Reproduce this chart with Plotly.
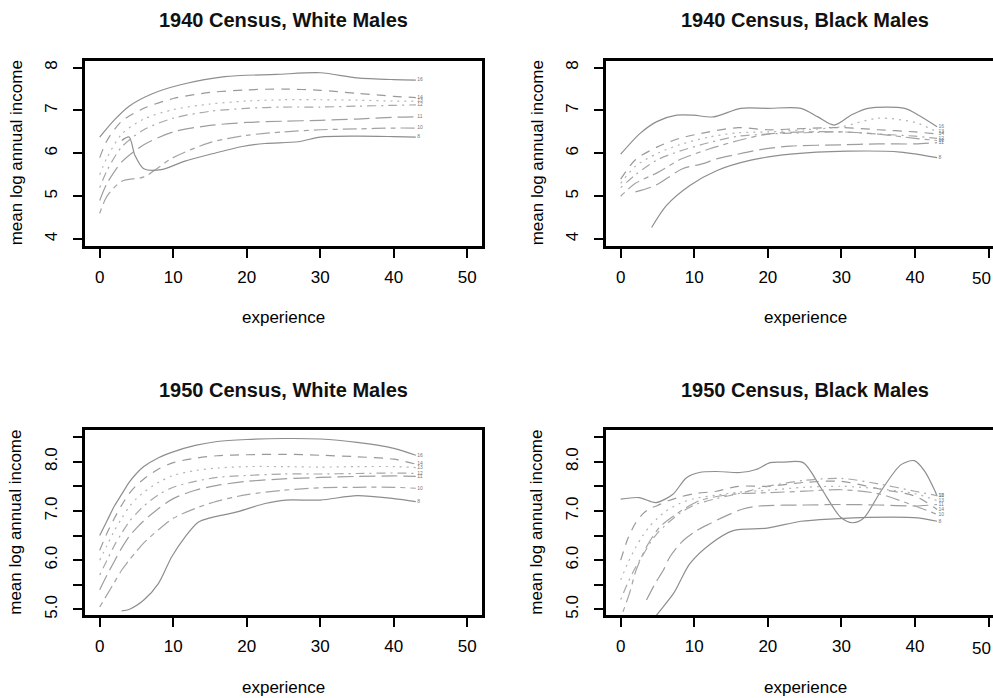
import plotly.graph_objects as go

W, H = 993, 698

# ---------------- data ----------------
EXP_TICKS = [0, 10, 20, 30, 40, 50]
Y40_TICKS = [4, 5, 6, 7, 8]
Y50_TICKS = [5.0, 5.5, 6.0, 6.5, 7.0, 7.5, 8.0, 8.5]
Y50_TICKTEXT = ["5.0", "", "6.0", "", "7.0", "", "8.0", ""]
EDU_LABELS = ["16", "14", "13", "12", "11", "10", "8"]

# 1940 Census, White Males
w40_l1_x = [0, 2, 4, 7, 11, 17, 24, 30, 35, 40, 43]
w40_l1_y = [6.38, 6.78, 7.10, 7.38, 7.60, 7.79, 7.84, 7.88, 7.76, 7.72, 7.71]
w40_grid = [0, 1, 3, 6, 10, 15, 20, 25, 30, 35, 40, 43]
w40_l2_y = [5.9, 6.3, 6.75, 7.05, 7.28, 7.42, 7.48, 7.50, 7.47, 7.40, 7.33, 7.30]
w40_l3_y = [5.5, 5.9, 6.45, 6.8, 7.02, 7.15, 7.22, 7.25, 7.25, 7.24, 7.22, 7.22]
w40_l4_y = [5.2, 5.6, 6.15, 6.55, 6.82, 6.98, 7.05, 7.08, 7.08, 7.10, 7.12, 7.13]
w40_l5_y = [4.9, 5.3, 5.8, 6.2, 6.5, 6.65, 6.72, 6.75, 6.77, 6.80, 6.84, 6.85]
w40_l6_y = [4.6, 5.0, 5.35, 5.45, 5.9, 6.25, 6.42, 6.50, 6.55, 6.57, 6.59, 6.59]
w40_l7_x = [3, 4, 4.8, 6, 8.4, 11.6, 15.3, 19.4, 22.5, 27, 30, 35, 40, 43]
w40_l7_y = [6.30, 6.38, 5.95, 5.64, 5.62, 5.82, 5.99, 6.16, 6.23, 6.27, 6.38, 6.40, 6.39, 6.38]

# 1940 Census, Black Males
b40_l1_x = [0, 2.6, 4.9, 7.6, 9.9, 12.6, 16.3, 19.9, 24.5, 26.8, 29, 31.3, 33.6, 38.6, 40.5, 43]
b40_l1_y = [5.98, 6.46, 6.74, 6.89, 6.89, 6.85, 7.05, 7.05, 7.05, 6.85, 6.66, 6.89, 7.05, 7.05, 6.89, 6.62]
b40_grid = [0, 2, 5, 8, 12, 16, 20, 25, 30, 35, 40, 43]
b40_l2_y = [5.4, 5.85, 6.15, 6.35, 6.5, 6.6, 6.55, 6.58, 6.60, 6.55, 6.50, 6.45]
b40_l3_y = [5.3, 5.7, 6.0, 6.2, 6.38, 6.48, 6.5, 6.55, 6.62, 6.82, 6.72, 6.50]
b40_l4_y = [5.2, 5.5, 5.85, 6.05, 6.25, 6.4, 6.45, 6.48, 6.50, 6.45, 6.40, 6.35]
b40_l5_x = [2, 4.7, 8.4, 11.2, 13, 15.6, 18.1, 20.4, 23.1, 30, 35, 40, 43]
b40_l5_y = [5.1, 5.25, 5.64, 5.76, 5.87, 5.97, 6.06, 6.12, 6.17, 6.20, 6.22, 6.22, 6.25]
b40_l6_y = [5.0, 5.3, 5.55, 5.85, 6.1, 6.3, 6.45, 6.5, 6.50, 6.45, 6.35, 6.30]
b40_l7_x = [4.2, 6.2, 9.4, 13.1, 17.7, 23.1, 30.8, 38, 43]
b40_l7_y = [4.27, 4.78, 5.25, 5.60, 5.84, 5.98, 6.05, 6.03, 5.90]

# 1950 Census, White Males
w50_grid = [0, 1, 2, 3, 4, 5, 6, 8, 10, 13, 16, 20, 25, 30, 35, 40, 43]
w50_l1_y = [6.5, 6.8, 7.1, 7.34, 7.58, 7.76, 7.9, 8.08, 8.2, 8.33, 8.41, 8.45, 8.47, 8.46, 8.39, 8.27, 8.13]
w50_l2_y = [6.2, 6.55, 6.85, 7.12, 7.35, 7.52, 7.65, 7.85, 7.98, 8.07, 8.12, 8.14, 8.15, 8.13, 8.10, 8.05, 7.95]
w50_l3_y = [6.0, 6.3, 6.6, 6.85, 7.08, 7.25, 7.38, 7.58, 7.72, 7.82, 7.87, 7.9, 7.9, 7.89, 7.90, 7.90, 7.88]
w50_l4_y = [5.7, 6.0, 6.3, 6.55, 6.78, 6.95, 7.1, 7.33, 7.48, 7.6, 7.68, 7.72, 7.75, 7.75, 7.76, 7.77, 7.76]
w50_l5_y = [5.4, 5.7, 5.98, 6.25, 6.48, 6.65, 6.8, 7.05, 7.25, 7.42, 7.52, 7.6, 7.65, 7.68, 7.70, 7.71, 7.70]
w50_l6_y = [5.05, 5.3, 5.55, 5.8, 6.0, 6.18, 6.35, 6.62, 6.85, 7.05, 7.2, 7.33, 7.42, 7.47, 7.48, 7.48, 7.46]
w50_l7_x = [3, 4, 6, 8, 9.8, 11.6, 13.4, 15.3, 18.4, 22.5, 25.3, 30, 35, 40, 43]
w50_l7_y = [4.97, 5.0, 5.19, 5.53, 6.07, 6.47, 6.77, 6.87, 6.97, 7.15, 7.22, 7.22, 7.31, 7.25, 7.19]

# 1950 Census, Black Males
b50_l1_x = [0, 2.5, 4.8, 7.1, 8.9, 10.7, 13, 16.2, 18.4, 20.3, 22, 24.8, 27.2, 29.9, 31.5, 33,
            35.4, 38.1, 39.9, 41.3, 42.7, 43]
b50_l1_y = [7.24, 7.27, 7.17, 7.34, 7.67, 7.78, 7.80, 7.78, 7.84, 7.98, 7.99, 7.98, 7.47, 6.87,
            6.76, 6.85, 7.41, 7.94, 8.02, 7.81, 7.41, 7.30]
b50_grid = [0, 1, 2, 3, 4, 5, 6, 8, 10, 13, 16, 20, 25, 30, 35, 40, 43]
b50_l2_y = [6.0, 6.45, 6.75, 6.94, 7.05, 7.11, 7.18, 7.28, 7.35, 7.40, 7.50, 7.50, 7.58, 7.60, 7.45, 7.30, 7.03]
b50_l3_y = [5.6, 5.95, 6.25, 6.5, 6.7, 6.85, 6.98, 7.15, 7.25, 7.32, 7.38, 7.42, 7.48, 7.50, 7.45, 7.35, 7.21]
b50_l4_y = [5.2, 5.55, 5.85, 6.1, 6.35, 6.55, 6.7, 6.95, 7.12, 7.25, 7.35, 7.50, 7.62, 7.66, 7.55, 7.40, 7.31]
b50_l5_x = [3.5, 4.7, 5.8, 6.7, 8.5, 10.3, 12.1, 14.3, 16.6, 18.9, 25, 30, 35, 40, 43]
b50_l5_y = [5.19, 5.53, 5.8, 6.07, 6.4, 6.6, 6.74, 6.9, 7.04, 7.10, 7.12, 7.13, 7.12, 7.10, 7.13]
b50_l6_x = [0.3, 1.2, 2.1, 3.5, 5.3, 7.6, 10.7, 15.3, 19.9, 25, 30, 35, 40, 43]
b50_l6_y = [4.95, 5.33, 5.8, 6.27, 6.67, 6.94, 7.21, 7.34, 7.37, 7.40, 7.43, 7.35, 7.10, 6.93]
b50_l7_x = [4.5, 4.9, 7.2, 9.4, 12.2, 15.3, 19.9, 24.5, 29, 33.6, 40.4, 43]
b50_l7_y = [4.80, 4.89, 5.33, 5.93, 6.33, 6.60, 6.65, 6.79, 6.84, 6.87, 6.86, 6.79]

PANEL_TITLES = ["1940 Census, White Males", "1940 Census, Black Males",
                "1950 Census, White Males", "1950 Census, Black Males"]

# ---------------- styling ----------------
DASHES = ["solid", "9px,7px", "2px,5px", "2px,5px,9px,5px", "16px,6px", "5px,5px,14px,5px", "solid"]
LINE_COLORS = ["#8e8e8e", "#9a9a9a", "#b4b4b4", "#a8a8a8", "#9e9e9e", "#a4a4a4", "#8e8e8e"]
FONT = "Liberation Sans, Arial, sans-serif"

panels = [
    [(w40_l1_x, w40_l1_y), (w40_grid, w40_l2_y), (w40_grid, w40_l3_y), (w40_grid, w40_l4_y),
     (w40_grid, w40_l5_y), (w40_grid, w40_l6_y), (w40_l7_x, w40_l7_y)],
    [(b40_l1_x, b40_l1_y), (b40_grid, b40_l2_y), (b40_grid, b40_l3_y), (b40_grid, b40_l4_y),
     (b40_l5_x, b40_l5_y), (b40_grid, b40_l6_y), (b40_l7_x, b40_l7_y)],
    [(w50_grid, w50_l1_y), (w50_grid, w50_l2_y), (w50_grid, w50_l3_y), (w50_grid, w50_l4_y),
     (w50_grid, w50_l5_y), (w50_grid, w50_l6_y), (w50_l7_x, w50_l7_y)],
    [(b50_l1_x, b50_l1_y), (b50_grid, b50_l2_y), (b50_grid, b50_l3_y), (b50_grid, b50_l4_y),
     (b50_l5_x, b50_l5_y), (b50_l6_x, b50_l6_y), (b50_l7_x, b50_l7_y)],
]

# pixel boxes (left, right, top, bottom)
boxes = [(85, 482, 61, 247), (606, 993, 61, 247), (85, 482, 432, 618), (606, 993, 432, 618)]
xranges = [[-2, 52], [-2, 50.6], [-2, 52], [-2, 50.6]]
yranges = [[3.84, 8.16], [3.84, 8.16], [4.88, 8.64], [4.88, 8.64]]
title_cx = [283.5, 805, 283.5, 805]

fig = go.Figure()
for p, lines in enumerate(panels):
    xa = "x" if p == 0 else f"x{p+1}"
    ya = "y" if p == 0 else f"y{p+1}"
    for i, (xs, ys) in enumerate(lines):
        fig.add_trace(go.Scatter(
            x=xs, y=ys, mode="lines", xaxis=xa, yaxis=ya,
            line=dict(color=LINE_COLORS[i], width=1.2, dash=DASHES[i], shape="spline", smoothing=0.8),
            showlegend=False, hoverinfo="skip"))
        fig.add_trace(go.Scatter(
            x=[xs[-1] + 0.2], y=[ys[-1]], mode="text", text=[EDU_LABELS[i]],
            textposition="middle right", xaxis=xa, yaxis=ya, cliponaxis=False,
            textfont=dict(size=5, color="#777777", family=FONT),
            showlegend=False, hoverinfo="skip"))

layout = dict(
    width=W, height=H, margin=dict(l=0, r=0, t=0, b=0),
    paper_bgcolor="white", plot_bgcolor="white",
    font=dict(family=FONT, size=17, color="black"),
    annotations=[],
)
for p, (l, r, t, b) in enumerate(boxes):
    sfx = "" if p == 0 else str(p + 1)
    right_panel = p in (1, 3)
    # the right-hand panels are cut off at the page edge: their last tick label is
    # written as an annotation that ends at the edge instead of overflowing the page
    xticktext = [str(v) for v in EXP_TICKS]
    if right_panel:
        xticktext[-1] = ""
    layout["xaxis" + sfx] = dict(
        domain=[l / W, r / W], range=xranges[p], anchor="y" + sfx,
        tickvals=EXP_TICKS, ticktext=xticktext,
        ticks="outside", ticklen=9, tickwidth=2, tickcolor="black",
        showline=True, linewidth=2.5, linecolor="black", mirror=True,
        showgrid=False, zeroline=False, ticklabelstandoff=5,
        tickfont=dict(size=17, color="black"))
    if p < 2:
        yt = dict(tickvals=Y40_TICKS, ticktext=[str(v) for v in Y40_TICKS])
    else:
        yt = dict(tickvals=Y50_TICKS, ticktext=Y50_TICKTEXT)
    layout["yaxis" + sfx] = dict(
        domain=[1 - b / H, 1 - t / H], range=yranges[p], anchor="x" + sfx,
        ticks="outside", ticklen=9, tickwidth=2, tickcolor="black",
        showline=True, linewidth=2.5, linecolor="black", mirror=not right_panel,
        showgrid=False, zeroline=False, tickangle=-90, ticklabelstandoff=9,
        tickfont=dict(size=17, color="black"), **yt)
    if right_panel:
        layout["annotations"].append(dict(
            text=str(EXP_TICKS[-1]), xref="paper", yref="paper",
            x=1.0, y=1 - (b + 33) / H, xanchor="right", yanchor="middle",
            showarrow=False, font=dict(size=17, color="black", family=FONT)))
    # panel title
    layout["annotations"].append(dict(
        text=PANEL_TITLES[p], xref="paper", yref="paper",
        x=title_cx[p] / W, y=1 - (20 if p < 2 else 392) / H,
        xanchor="center", yanchor="middle", showarrow=False,
        font=dict(size=20, weight="bold", color="#111111", family=FONT)))
    # x axis title
    layout["annotations"].append(dict(
        text="experience", xref="paper", yref="paper",
        x=title_cx[p] / W, y=1 - (319 if p < 2 else 690) / H,
        xanchor="center", yanchor="middle", showarrow=False,
        font=dict(size=17, color="black", family=FONT)))
    # y axis title
    layout["annotations"].append(dict(
        text="mean log annual income", xref="paper", yref="paper",
        x=(16 if not right_panel else 537) / W, y=1 - ((t + b) / 2) / H,
        xanchor="center", yanchor="middle", showarrow=False, textangle=-90,
        font=dict(size=17, color="black", family=FONT)))

fig.update_layout(**layout)
fig.write_html("out.html")
